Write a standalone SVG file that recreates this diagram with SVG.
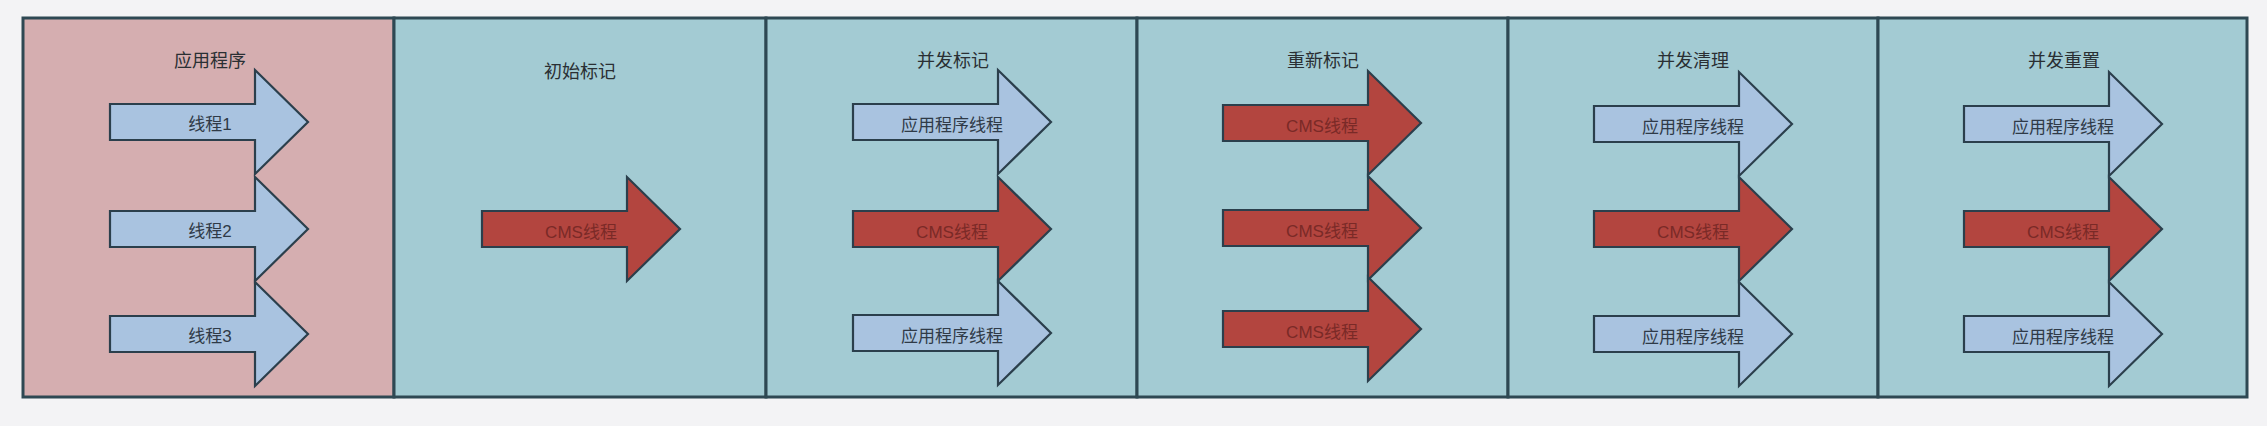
<svg xmlns="http://www.w3.org/2000/svg" width="2267" height="426" viewBox="0 0 2267 426">
<style>
  .bg { fill: #f3f3f5; }
  .pane { stroke: #2e4853; stroke-width: 3; }
  .pink { fill: #d5aeb0; }
  .teal { fill: #a3cbd3; }
  .title { font-family: "Liberation Sans", "Noto Sans CJK SC", sans-serif; font-size: 18px; fill: #2a2f33; text-anchor: middle; dominant-baseline: central; }
  .lbl { font-family: "Liberation Sans", "Noto Sans CJK SC", sans-serif; font-size: 17px; text-anchor: middle; dominant-baseline: central; }
  .app { fill: #a9c3e0; stroke: #2b3f4c; stroke-width: 2.2; stroke-linejoin: miter; }
  .cms { fill: #b3453f; stroke: #2b3f4c; stroke-width: 2.2; stroke-linejoin: miter; }
  .appt { fill: #2f3a47; }
  .cmst { fill: #7a2a27; }
</style>
<defs>
  <path id="arr" d="M0,-18 H145 V-52 L198,0 L145,52 V18 H0 Z"/>
</defs>
<rect class="bg" x="0" y="0" width="2267" height="426"/>

<g id="panel-app">
  <rect class="pane pink" x="23" y="18" width="371" height="379"/>
  <text class="title" x="210" y="61">应用程序</text>
  <g id="app-t1"><use href="#arr" class="app" x="110" y="122"/><text class="lbl appt" x="210" y="124">线程1</text></g>
  <g id="app-t2"><use href="#arr" class="app" x="110" y="229"/><text class="lbl appt" x="210" y="231">线程2</text></g>
  <g id="app-t3"><use href="#arr" class="app" x="110" y="334"/><text class="lbl appt" x="210" y="336">线程3</text></g>
</g>

<g id="panel-initial-mark">
  <rect class="pane teal" x="394" y="18" width="372" height="379"/>
  <text class="title" x="580" y="72">初始标记</text>
  <g id="im-cms"><use href="#arr" class="cms" x="482" y="229"/><text class="lbl cmst" x="581" y="232">CMS线程</text></g>
</g>

<g id="panel-concurrent-mark">
  <rect class="pane teal" x="766" y="18" width="371" height="379"/>
  <text class="title" x="953" y="61">并发标记</text>
  <g id="cm-app1"><use href="#arr" class="app" x="853" y="122"/><text class="lbl appt" x="952" y="125">应用程序线程</text></g>
  <g id="cm-cms"><use href="#arr" class="cms" x="853" y="229"/><text class="lbl cmst" x="952" y="232">CMS线程</text></g>
  <g id="cm-app2"><use href="#arr" class="app" x="853" y="333"/><text class="lbl appt" x="952" y="336">应用程序线程</text></g>
</g>

<g id="panel-remark">
  <rect class="pane teal" x="1137" y="18" width="371" height="379"/>
  <text class="title" x="1323" y="61">重新标记</text>
  <g id="rm-cms1"><use href="#arr" class="cms" x="1223" y="123"/><text class="lbl cmst" x="1322" y="126">CMS线程</text></g>
  <g id="rm-cms2"><use href="#arr" class="cms" x="1223" y="228"/><text class="lbl cmst" x="1322" y="231">CMS线程</text></g>
  <g id="rm-cms3"><use href="#arr" class="cms" x="1223" y="329"/><text class="lbl cmst" x="1322" y="332">CMS线程</text></g>
</g>

<g id="panel-concurrent-sweep">
  <rect class="pane teal" x="1508" y="18" width="370" height="379"/>
  <text class="title" x="1693" y="61">并发清理</text>
  <g id="cs-app1"><use href="#arr" class="app" x="1594" y="124"/><text class="lbl appt" x="1693" y="127">应用程序线程</text></g>
  <g id="cs-cms"><use href="#arr" class="cms" x="1594" y="229"/><text class="lbl cmst" x="1693" y="232">CMS线程</text></g>
  <g id="cs-app2"><use href="#arr" class="app" x="1594" y="334"/><text class="lbl appt" x="1693" y="337">应用程序线程</text></g>
</g>

<g id="panel-concurrent-reset">
  <rect class="pane teal" x="1878" y="18" width="369" height="379"/>
  <text class="title" x="2064" y="61">并发重置</text>
  <g id="cr-app1"><use href="#arr" class="app" x="1964" y="124"/><text class="lbl appt" x="2063" y="127">应用程序线程</text></g>
  <g id="cr-cms"><use href="#arr" class="cms" x="1964" y="229"/><text class="lbl cmst" x="2063" y="232">CMS线程</text></g>
  <g id="cr-app2"><use href="#arr" class="app" x="1964" y="334"/><text class="lbl appt" x="2063" y="337">应用程序线程</text></g>
</g>

<g id="connectors"></g>
</svg>
